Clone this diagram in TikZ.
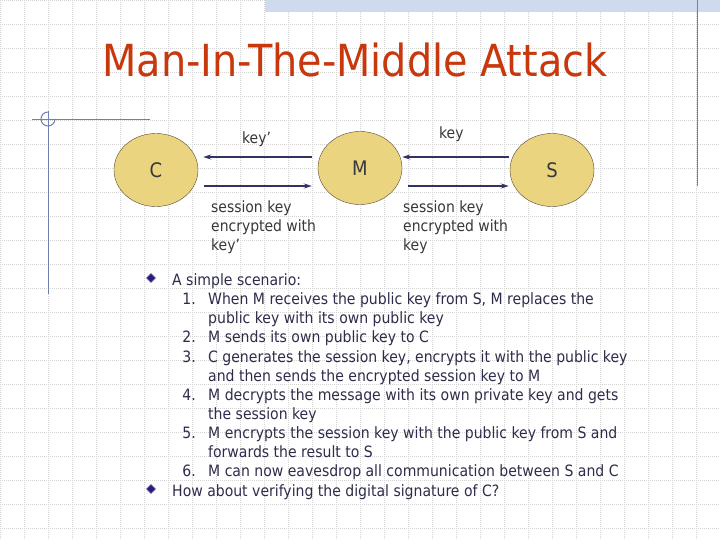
\documentclass[tikz,border=0pt]{standalone}
\usepackage{fontspec}
\setmainfont{DejaVu Sans Condensed}
\usepackage{tikz}
\usetikzlibrary{arrows.meta, positioning, shapes.geometric}

\definecolor{titlered}{RGB}{200,56,12}
\definecolor{bodytext}{RGB}{45,45,75}
\definecolor{labeltext}{RGB}{55,55,60}
\definecolor{partyfill}{RGB}{235,212,128}
\definecolor{partyline}{RGB}{90,72,52}
\definecolor{msgblue}{RGB}{50,50,100}
\definecolor{bulletnavy}{RGB}{40,28,125}
\definecolor{decoblue}{RGB}{112,126,176}
\definecolor{bandblue}{RGB}{208,218,238}
\definecolor{gridgray}{RGB}{212,212,212}

\tikzset{
    party/.style={ellipse, draw=partyline, fill=partyfill, minimum width=84pt,
        minimum height=73pt, inner sep=0pt, text=labeltext, font=\fontsize{20}{24}\selectfont},
    msg/.style={draw=msgblue, line width=1.5pt, -{Stealth[length=8pt,width=5pt]}},
    msgbold/.style={msg, line width=2.2pt},
    lbl/.style={anchor=base west, inner sep=0pt, text=labeltext, align=left,
        font=\fontsize{15.5}{19}\selectfont},
    bodyline/.style={anchor=base west, inner sep=0pt, text=bodytext,
        font=\fontsize{15.6}{19}\selectfont},
    numline/.style={anchor=base east, inner sep=0pt, text=bodytext,
        font=\fontsize{15.6}{19}\selectfont},
    bulletmark/.style={diamond, fill=bulletnavy, draw=bulletnavy!35!white, line width=0.8pt,
        minimum size=10pt, inner sep=0pt},
    gridline/.style={draw=gridgray, line width=0.5pt, dash pattern=on 1pt off 1pt},
    deco/.style={draw=decoblue, line width=1pt}
}

\begin{document}
\begin{tikzpicture}[x=1pt, y=-1pt]
    \useasboundingbox[fill=white] (0,0) rectangle (720,540);

    % background grid and slide decoration
    \foreach \gx in {0,24,...,720}
        \draw[gridline] (\gx,0) -- (\gx,540);
    \foreach \gy in {0,24,...,540}
        \draw[gridline] (0,\gy) -- (720,\gy);
    \fill[bandblue] (265,0) rectangle (720,12);
    \draw[deco] (697,0) -- (697,186);
    \draw[deco] (32,120) -- (150,120);
    \draw[deco] (48,111) -- (48,294);
    \draw[deco] (48,112) arc[start angle=270, end angle=0, radius=7];

    % title
    \node[text=titlered, font=\fontsize{44.2}{52}\selectfont, anchor=base] (title)
        at (355,77) {Man-In-The-Middle Attack};

    % parties
    \node[party] (C) at (156,170) {C};
    \node[party] (M) at (360,168) {M};
    \node[party] (S) at (552,170) {S};

    % messages
    \draw[msg, shorten <=6pt, shorten >=5pt] ([yshift=11pt]M.west) -- ([yshift=13pt]C.east);
    \draw[msgbold, shorten <=6pt, shorten >=6pt] ([yshift=-16pt]C.east) -- ([yshift=-18pt]M.west);
    \draw[msg, shorten <=1pt, shorten >=0pt] ([yshift=13pt]S.west) -- ([yshift=11pt]M.east);
    \draw[msgbold, shorten <=6pt, shorten >=1pt] ([yshift=-18pt]M.east) -- ([yshift=-16pt]S.west);

    \node[lbl] (keyprime) at (242,144) {key’};
    \node[lbl] (keyplain) at (439,139) {key};
    \node[lbl] (sesscm) at (211,251) {session key\\encrypted with\\key’};
    \node[lbl] (sessms) at (403,251) {session key\\encrypted with\\key};

    % scenario text
    \node[bulletmark] (b1) at (151,278) {};
    \node[bulletmark] (b2) at (151,489) {};
    \node[bodyline] (intro) at (172,285) {A simple scenario:};
    \node[bodyline] (ask) at (172,496) {How about verifying the digital signature of C?};
    \foreach \n/\y in {1/304, 2/342, 3/362, 4/400, 5/438, 6/476}
        \node[numline] (num\n) at (196,\y) {\n.};
    \foreach \y/\t in {
        304/{When M receives the public key from S, M replaces the},
        323/{public key with its own public key},
        342/{M sends its own public key to C},
        362/{C generates the session key, encrypts it with the public key},
        381/{and then sends the encrypted session key to M},
        400/{M decrypts the message with its own private key and gets},
        419/{the session key},
        438/{M encrypts the session key with the public key from S and},
        457/{forwards the result to S},
        476/{M can now eavesdrop all communication between S and C}}
        \node[bodyline] at (208,\y) {\t};
\end{tikzpicture}
\end{document}
